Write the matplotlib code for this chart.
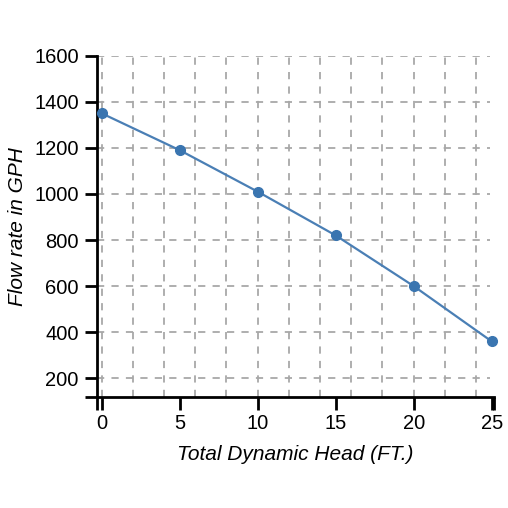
import matplotlib
matplotlib.use("Agg")
import matplotlib.pyplot as plt

# pump curve
head_ft = [0, 5, 10, 15, 20, 25]
flow_gph = [1350, 1190, 1010, 820, 600, 360]

x_ticks = [0, 5, 10, 15, 20, 25]
y_ticks = [200, 400, 600, 800, 1000, 1200, 1400, 1600]
x_grid = [0, 2, 4, 6, 8, 10, 12, 14, 16, 18, 20, 22, 24]

plt.rcParams['font.family'] = ['Liberation Sans', 'DejaVu Sans']

fig = plt.figure(figsize=(5.08, 5.08), dpi=100)
ax = fig.add_axes([0.1904, 0.2179, 0.9724 - 0.1904, 0.8902 - 0.2179])

xmin, xmax = -0.32, 25.15
ymin, ymax = 117, 1600
ax.set_xlim(xmin, xmax)
ax.set_ylim(ymin, ymax)

# dashed grid
grid_kw = dict(color='#a8a8a8', linewidth=1.3, linestyle=(0, (4, 4)), zorder=1)
for gx in x_grid:
    ax.plot([gx, gx], [ymin, ymax], **grid_kw)
for gy in y_ticks:
    ax.plot([xmin, 24.9], [gy, gy], **grid_kw)

ax.plot(head_ft, flow_gph, color='#4a7fb5', linewidth=1.6, zorder=3, clip_on=False,
        marker='o', markersize=7, markerfacecolor='#3a75b0', markeredgecolor='#3a75b0')

for side in ['top', 'right']:
    ax.spines[side].set_visible(False)
for side in ['left', 'bottom']:
    ax.spines[side].set_linewidth(2)
    ax.spines[side].set_color('black')

ax.set_xticks(x_ticks)
ax.set_yticks(y_ticks)
ax.set_xticks([xmin, xmax], minor=True)
ax.set_yticks([ymin], minor=True)
ax.tick_params(which='both', length=9, width=2, color='black', labelsize=14.5, pad=4)
ax.tick_params(axis='x', pad=3)

ax.set_xlabel('Total Dynamic Head (FT.)', fontsize=15, style='italic', labelpad=9)
ax.set_ylabel('Flow rate in GPH', fontsize=15, style='italic', labelpad=5)

fig.savefig('out.png', dpi=100)
